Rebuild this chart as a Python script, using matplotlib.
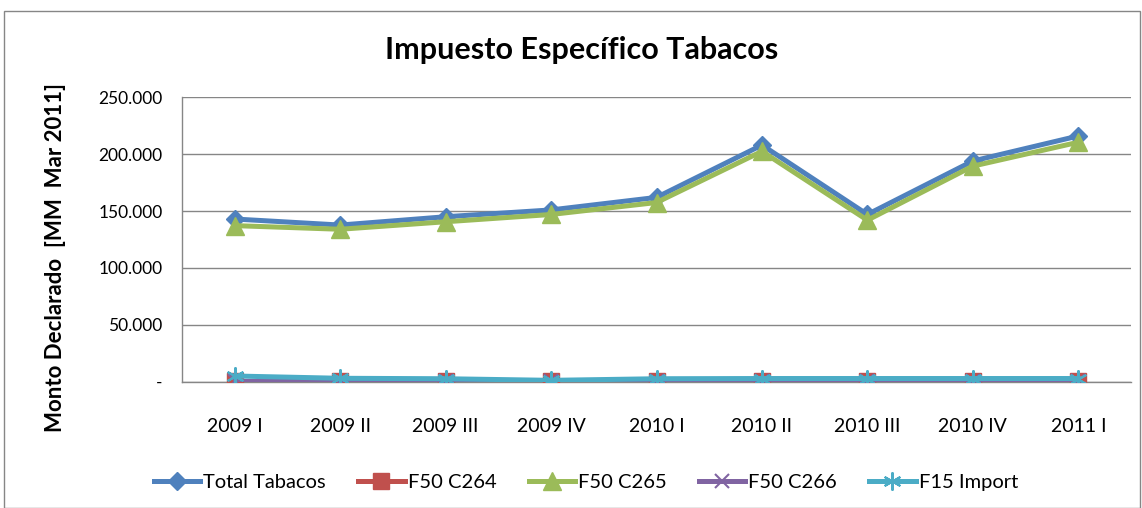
import matplotlib
matplotlib.use("Agg")
import matplotlib.pyplot as plt
from matplotlib.patches import Rectangle
from matplotlib.ticker import FuncFormatter

categories = ["2009 I", "2009 II", "2009 III", "2009 IV", "2010 I",
              "2010 II", "2010 III", "2010 IV", "2011 I"]
total_tabacos = [143000, 137700, 145000, 151000, 162000, 208000, 147000, 194000, 216000]
f50_c264 = [200, 200, 200, 200, 200, 200, 200, 200, 200]
f50_c265 = [137200, 134000, 140600, 147000, 157500, 202500, 142000, 189500, 210500]
f50_c266 = [400, 400, 400, 400, 400, 400, 400, 400, 400]
f15_import = [5000, 3000, 2600, 1200, 2600, 2800, 2800, 2800, 2800]
y_ticks = [0, 50000, 100000, 150000, 200000, 250000]

font = "Lato"
plt.rcParams['font.family'] = [font, 'DejaVu Sans']

fig = plt.figure(figsize=(11.42, 5.08), dpi=100)
fig.patches.append(Rectangle((4/1142, 0), 1136/1142, 1 - 11/508, transform=fig.transFigure,
                             fill=False, edgecolor="#868686", linewidth=1.0))
ax = fig.add_axes([182/1142, 1 - 381.7/508, (1131-182)/1142, (381.7-97.3)/508])

x = list(range(len(categories)))
lw = 3.6
ax.plot(x, total_tabacos, color="#4F81BD", lw=lw, marker="D", ms=9, label="Total Tabacos", zorder=3)
ax.plot(x, f50_c264, color="#C0504D", lw=lw, marker="s", ms=11.5, label="F50 C264", zorder=3)
ax.plot(x, f50_c265, color="#9BBB59", lw=lw, marker="^", ms=13, label="F50 C265", zorder=4)
ax.plot(x, f50_c266, color="#8064A2", lw=lw, marker="x", ms=10, mew=1.5, label="F50 C266", zorder=4)
ax.plot(x, f15_import, color="#4BACC6", lw=lw, marker=(6, 2, 0), ms=13, mew=1.5, label="F15 Import", zorder=5)

ax.set_xlim(-0.5, len(categories) - 0.5)
ax.set_ylim(0, 250000)
ax.set_yticks(y_ticks)
ax.yaxis.set_major_formatter(FuncFormatter(
    lambda v, p: "-" if v == 0 else f"{int(v):,}".replace(",", ".")))
ax.set_xticks(x)
ax.set_xticklabels(categories)
ax.tick_params(axis="both", length=0)
ax.tick_params(axis="y", pad=14, labelsize=12.5)
ax.tick_params(axis="x", pad=26, labelsize=14)
ax.grid(axis="y", color="#868686", lw=1.0)
ax.set_axisbelow(True)
for s in ["top", "right"]:
    ax.spines[s].set_visible(False)
for s in ["left", "bottom"]:
    ax.spines[s].set_color("#868686")
    ax.spines[s].set_linewidth(1.0)

ax.set_ylabel("Monto Declarado  [MM  Mar 2011]", fontsize=16, fontweight="bold")
ax.yaxis.set_label_coords((66 - 182) / (1131 - 182), 0.5 - (258 - 239.5) / 284.4)
fig.text(582/1142, 1 - 50/508, "Impuesto Específico Tabacos", ha="center", va="center",
         fontsize=22, fontweight="bold")

leg = fig.legend(loc="center", bbox_to_anchor=(586/1142, 1 - 482/508), ncol=5, frameon=False,
                 fontsize=14.5, handlelength=2.3, columnspacing=1.6, handletextpad=0.15)

fig.savefig("out.png", dpi=100)
